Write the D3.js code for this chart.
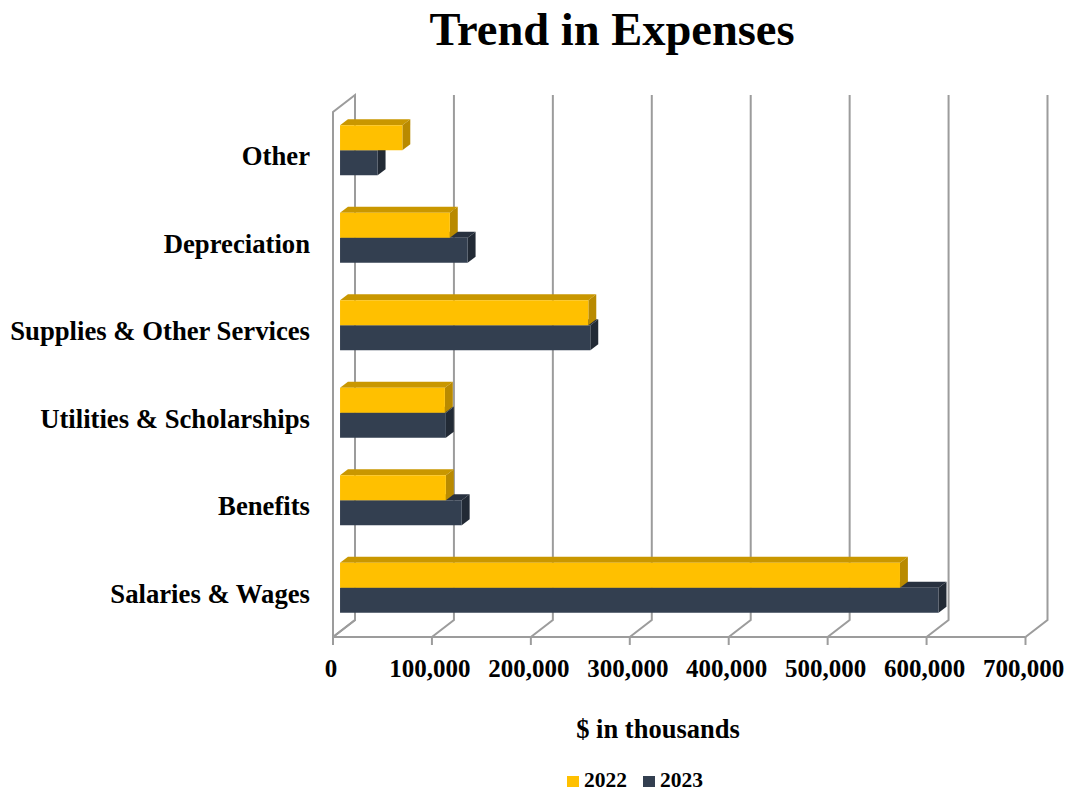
<!DOCTYPE html>
<html>
<head>
<meta charset="utf-8">
<script src="https://cdn.jsdelivr.net/npm/d3@7"></script>
<style>
  body { margin: 0; background: #fff; }
  text { font-family: "Liberation Serif", "Times New Roman", serif; font-weight: bold; fill: #000; }
</style>
</head>
<body>
<div id="chart"></div>
<script>
// data ($ in thousands), top to bottom as drawn
const categories = ['Other', 'Depreciation', 'Supplies & Other Services', 'Utilities & Scholarships', 'Benefits', 'Salaries & Wages'];
const values2022 = [63000, 111000, 251000, 106000, 107000, 566000];
const values2023 = [38000, 129000, 253000, 107000, 123000, 605000];
const series = ['2022', '2023'];
const tickValues = [0, 100000, 200000, 300000, 400000, 500000, 600000, 700000];

const width = 1070, height = 792;

// 3d look: depth offset of the back wall
const depthX = 22, depthY = -17;
const barZ = 0.32, barDepth = 0.36;
const barH = 25;

const colors = {
  '2022': {front: '#FFC000', top: '#C99700', side: '#B98A00'},
  '2023': {front: '#333F50', top: '#28313F', side: '#222A35'}
};

const x = d3.scaleLinear()
  .domain([0, 700000])
  .range([333, 1025.5]);

const y = d3.scaleBand()
  .domain(categories)
  .range([112, 637]);

// project a point in the front plane back by z (0..1) of the depth
const proj = (px, py, z) => [px + z * depthX, py + z * depthY];

const svg = d3.select('#chart').append('svg')
  .attr('width', width)
  .attr('height', height);

// title
svg.append('text')
  .attr('x', 612).attr('y', 45)
  .attr('text-anchor', 'middle')
  .style('font-size', '46.5px')
  .text('Trend in Expenses');

const grid = svg.append('g')
  .attr('fill', 'none')
  .attr('stroke', '#9C9C9C')
  .attr('stroke-width', 2);

const [y0, y1] = y.range();

// left wall
grid.append('path')
  .attr('d', () => {
    const a = proj(x(0), y1, 0), b = proj(x(0), y0, 0), c = proj(x(0), y0, 1), d = proj(x(0), y1, 1);
    return `M${a}L${b}L${c}L${d}Z`;
  });

// back wall verticals + floor diagonals + ticks
tickValues.forEach(t => {
  const f = proj(x(t), y1, 0), bb = proj(x(t), y1, 1), bt = proj(x(t), y0, 1);
  grid.append('path').attr('d', `M${f}L${bb}L${bt}`);
  grid.append('line')
    .attr('x1', x(t)).attr('x2', x(t))
    .attr('y1', y1).attr('y2', y1 + 8);
});

// front floor line
grid.append('line')
  .attr('x1', x(0)).attr('x2', x(700000))
  .attr('y1', y1).attr('y2', y1);

// tick labels
svg.append('g').selectAll('text')
  .data(tickValues)
  .join('text')
  .attr('x', d => x(d) - 2)
  .attr('y', 677)
  .attr('text-anchor', 'middle')
  .style('font-size', '25px')
  .text(d => d3.format(',')(d));

// category labels
svg.append('g').selectAll('text')
  .data(categories)
  .join('text')
  .attr('x', 310)
  .attr('y', d => y(d) + y.bandwidth() / 2)
  .attr('dy', '0.36em')
  .attr('text-anchor', 'end')
  .style('font-size', '26.7px')
  .text(d => d);

// 3d bars
function drawBar(g, cat, value, offset, s) {
  const c = colors[s];
  const yc = y(cat) + y.bandwidth() / 2;
  const top = yc - barH + offset * barH;
  const bottom = top + barH;
  const xa = x(0), xb = x(value);
  const p = (px, py, z) => proj(px, py, z).join(',');
  const z0 = barZ, z1 = barZ + barDepth;
  // top face
  g.append('path').attr('fill', c.top)
    .attr('d', `M${p(xa, top, z0)}L${p(xb, top, z0)}L${p(xb, top, z1)}L${p(xa, top, z1)}Z`);
  // side face
  g.append('path').attr('fill', c.side)
    .attr('d', `M${p(xb, top, z0)}L${p(xb, bottom, z0)}L${p(xb, bottom, z1)}L${p(xb, top, z1)}Z`);
  // front face
  g.append('path').attr('fill', c.front)
    .attr('d', `M${p(xa, top, z0)}L${p(xb, top, z0)}L${p(xb, bottom, z0)}L${p(xa, bottom, z0)}Z`);
}

const bars = svg.append('g');
categories.forEach((cat, i) => {
  drawBar(bars, cat, values2023[i], 1, '2023');
  drawBar(bars, cat, values2022[i], 0, '2022');
});

// axis title
svg.append('text')
  .attr('x', 658).attr('y', 738)
  .attr('text-anchor', 'middle')
  .style('font-size', '26.5px')
  .text('$ in thousands');

// legend
const legendX = [567, 643];
const legend = svg.append('g').selectAll('g')
  .data(series)
  .join('g')
  .attr('transform', (d, i) => `translate(${legendX[i]},776)`);
legend.append('rect')
  .attr('width', 12).attr('height', 11)
  .attr('fill', d => colors[d].front);
legend.append('text')
  .attr('x', 17).attr('y', 11)
  .style('font-size', '21.5px')
  .text(d => d);
</script>
</body>
</html>
